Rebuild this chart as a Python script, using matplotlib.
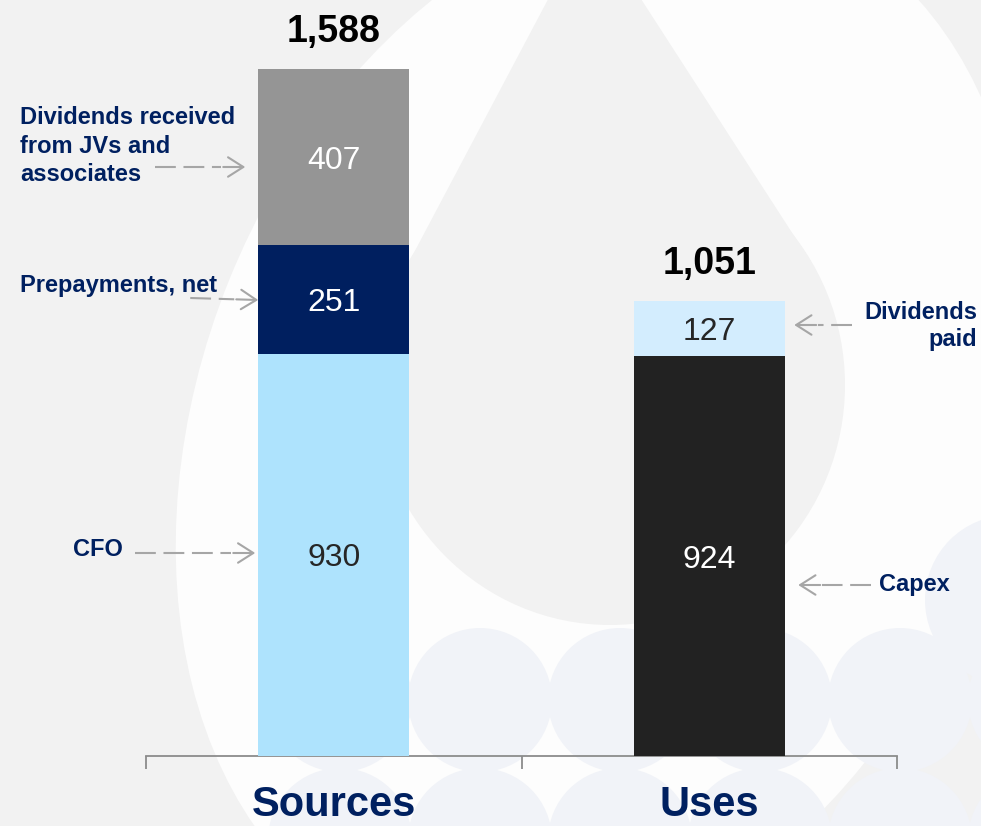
import math
import matplotlib
matplotlib.use('Agg')
import matplotlib.pyplot as plt
from matplotlib.patches import Ellipse, Polygon
from matplotlib.transforms import IdentityTransform

# ---------------- data ----------------
categories = ['Sources', 'Uses']
sources_labels = ['CFO', 'Prepayments, net', 'Dividends received\nfrom JVs and\nassociates']
sources_values = [930, 251, 407]
uses_labels = ['Capex', 'Dividends\npaid']
uses_values = [924, 127]
totals = [1588, 1051]
total_labels = ['1,588', '1,051']

sources_colors = ['#aee3fd', '#001f5f', '#959595']
uses_colors = ['#222222', '#d3edfe']
sources_text_colors = ['#262626', 'white', 'white']
uses_text_colors = ['white', '#262626']

NAVY = '#002060'
ARROW = '#a6a6a6'

plt.rcParams['font.family'] = ['Liberation Sans', 'DejaVu Sans']
plt.rcParams['lines.scale_dashes'] = False

W, H = 981, 826
fig = plt.figure(figsize=(W / 100, H / 100), dpi=100)
fig.patch.set_facecolor('#f2f2f2')
IDT = IdentityTransform()


def pxy(x, y):
    # image pixel (top-left origin) -> display coords (bottom-left origin)
    return (x, H - y)


# ---------------- decorative background ----------------
fig.add_artist(Ellipse(pxy(600, 430), 800, 1100, angle=-22, transform=IDT,
                       facecolor='#fdfdfd', edgecolor='none', zorder=-20))
for cy in (700, 840):
    for cx in (340, 480, 620, 760, 900, 1040):
        fig.add_artist(Ellipse(pxy(cx, cy), 144, 144, transform=IDT,
                               facecolor='#f1f3f8', edgecolor='none', zorder=-15))
fig.add_artist(Ellipse(pxy(1010, 600), 170, 170, transform=IDT,
                       facecolor='#f1f3f8', edgecolor='none', zorder=-15))
# droplet
fig.add_artist(Ellipse(pxy(610, 385), 470, 480, transform=IDT,
                       facecolor='#f2f2f2', edgecolor='none', zorder=-12))
fig.add_artist(Polygon([pxy(590, -80), pxy(409, 262), pxy(811, 262)], closed=True,
                       transform=IDT, facecolor='#f2f2f2', edgecolor='none', zorder=-12))

# ---------------- axes ----------------
PX_PER_UNIT = 0.4326
ax = fig.add_axes([146 / W, 70 / H, 751 / W, 1700 * PX_PER_UNIT / H])
ax.set_facecolor('none')
ax.set_xlim(-0.5, 1.5)
ax.set_ylim(0, 1700)

bar_w = 0.402
VAL_FS = 23
val_off = -0.716 * VAL_FS / 2  # points, to centre the digits vertically


def stack(x, values, colors, text_colors):
    bottom = 0
    for v, c, tc in zip(values, colors, text_colors):
        ax.bar(x, v, bottom=bottom, width=bar_w, color=c, edgecolor='none', zorder=3)
        ax.annotate(f'{v:,}', xy=(x, bottom + v / 2), xytext=(0, val_off),
                    textcoords='offset points', ha='center', va='baseline',
                    fontsize=VAL_FS, color=tc, zorder=4)
        bottom += v


stack(0, sources_values, sources_colors, sources_text_colors)
stack(1, uses_values, uses_colors, uses_text_colors)

for i, (t, lab) in enumerate(zip(totals, total_labels)):
    ax.text(i, t + 63, lab, ha='center', va='baseline', fontsize=27,
            fontweight='bold', color='black')

for s in ('top', 'right', 'left'):
    ax.spines[s].set_visible(False)
ax.spines['bottom'].set_color('#8c8c8c')
ax.spines['bottom'].set_linewidth(1.3)
ax.set_yticks([])
ax.set_xticks([0, 1], ['', ''])
ax.tick_params(axis='x', which='major', length=0)
ax.set_xticks([-0.5, 0.5, 1.5], minor=True)
ax.tick_params(axis='x', which='minor', length=9.5, width=1.3, color='#8c8c8c', direction='out')

for i, cat in enumerate(categories):
    ax.text(i, (756 - 816) / PX_PER_UNIT, cat, ha='center', va='baseline', fontsize=30,
            fontweight='bold', color=NAVY, clip_on=False)


# ---------------- annotations ----------------
def dx(px):
    return (px - 333.5) / 375.5


def dy(py):
    return (756 - py) / PX_PER_UNIT


def dashed_arrow(x0, y0, x1, y1):
    # dashed shaft + solid final dash with an open head
    L = math.hypot(x1 - x0, y1 - y0)
    ux, uy = (x1 - x0) / L, (y1 - y0) / L
    mx, my = x1 - 24 * ux, y1 - 24 * uy
    sx, sy = x1 - 22 * ux, y1 - 22 * uy
    ax.plot([dx(x0), dx(mx)], [dy(y0), dy(my)], color=ARROW, lw=1.5,
            dashes=(15, 5.5), solid_capstyle='butt', clip_on=False, zorder=5)
    ax.annotate('', xy=(dx(x1), dy(y1)), xytext=(dx(sx), dy(sy)),
                arrowprops=dict(arrowstyle='->,head_length=1.1,head_width=0.7',
                                color=ARROW, lw=1.5, shrinkA=0, shrinkB=0,
                                mutation_scale=10),
                annotation_clip=False, zorder=5)


LBL = dict(fontsize=17, fontweight='bold', color=NAVY, clip_on=False)
ax.text(dx(20), dy(146), sources_labels[2], ha='left', va='center', linespacing=1.28, **LBL)
dashed_arrow(155, 167, 245, 167)
ax.text(dx(20), dy(285), sources_labels[1], ha='left', va='center', **LBL)
dashed_arrow(190, 298, 258, 300)
ax.text(dx(73), dy(549), sources_labels[0], ha='left', va='center', **LBL)
dashed_arrow(135, 553, 255, 553)
ax.text(dx(977), dy(326), uses_labels[1], ha='right', va='center', multialignment='right',
        linespacing=1.2, **LBL)
dashed_arrow(852, 325, 794, 325)
ax.text(dx(879), dy(585), uses_labels[0], ha='left', va='center', **LBL)
dashed_arrow(871, 585, 798, 585)

fig.savefig('out.png', dpi=100, facecolor=fig.get_facecolor())
